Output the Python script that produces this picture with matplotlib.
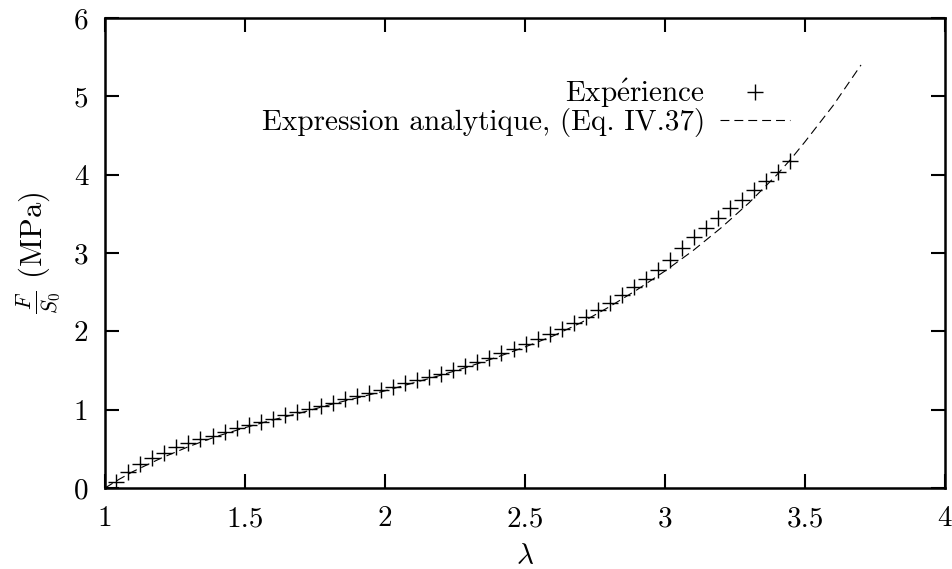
import matplotlib
matplotlib.use('Agg')
import matplotlib.pyplot as plt
from matplotlib import rcParams

rcParams['font.family'] = ['cmr10', 'DejaVu Serif']
rcParams['mathtext.fontset'] = 'cm'
rcParams['axes.formatter.use_mathtext'] = True

# experimental points (lambda, F/S0 in MPa)
lam_exp = [1.040, 1.083, 1.126, 1.169, 1.212, 1.255, 1.298, 1.341, 1.384, 1.427,
           1.470, 1.513, 1.556, 1.599, 1.642, 1.685, 1.728, 1.771, 1.814, 1.857,
           1.900, 1.943, 1.986, 2.029, 2.072, 2.115, 2.158, 2.201, 2.244, 2.287,
           2.330, 2.373, 2.416, 2.459, 2.502, 2.545, 2.588, 2.631, 2.674, 2.717,
           2.760, 2.803, 2.846, 2.889, 2.932, 2.975, 3.018, 3.061, 3.104, 3.147,
           3.190, 3.233, 3.276, 3.319, 3.362, 3.405, 3.448]
f_exp = [0.08, 0.20, 0.30, 0.38, 0.45, 0.52, 0.57, 0.62, 0.66, 0.71,
         0.76, 0.80, 0.84, 0.88, 0.93, 0.97, 1.01, 1.05, 1.09, 1.13,
         1.17, 1.21, 1.25, 1.29, 1.34, 1.38, 1.42, 1.46, 1.51, 1.56,
         1.61, 1.66, 1.72, 1.78, 1.84, 1.90, 1.96, 2.03, 2.10, 2.18,
         2.27, 2.36, 2.46, 2.57, 2.67, 2.78, 2.91, 3.06, 3.20, 3.32,
         3.45, 3.57, 3.68, 3.80, 3.92, 4.04, 4.17]

# analytic expression (Eq. IV.37)
lam_th = [1.0, 1.05, 1.1, 1.2, 1.3, 1.4, 1.5, 1.6, 1.7, 1.8, 1.9, 2.0, 2.1, 2.2,
          2.3, 2.4, 2.5, 2.6, 2.7, 2.8, 2.9, 3.0, 3.1, 3.2, 3.3, 3.4, 3.45, 3.5,
          3.6, 3.7]
f_th = [0.0, 0.11, 0.21, 0.38, 0.53, 0.66, 0.77, 0.87, 0.96, 1.06, 1.15, 1.24,
        1.34, 1.44, 1.55, 1.67, 1.80, 1.94, 2.11, 2.31, 2.53, 2.77, 3.03, 3.32,
        3.64, 4.00, 4.20, 4.42, 4.88, 5.40]

fig = plt.figure(figsize=(9.53, 5.69), dpi=100)
ax = fig.add_axes([0.1102, 0.1424, 0.8814, 0.826])

ax.plot(lam_exp, f_exp, linestyle='none', marker='+', markersize=11,
        markeredgewidth=1.0, color='black', label=r'Exp$\acute{\rm e}$rience')
ax.plot(lam_th, f_th, linestyle=(0, (8, 4.5)), linewidth=0.8, color='black',
        label='Expression analytique, (Eq. IV.37)')

ax.set_xlim(1, 4)
ax.set_ylim(0, 6)
ax.set_xticks([1, 1.5, 2, 2.5, 3, 3.5, 4])
ax.set_xticklabels(['1', '1.5', '2', '2.5', '3', '3.5', '4'])
ax.set_yticks([0, 1, 2, 3, 4, 5, 6])
ax.set_yticklabels(['0', '1', '2', '3', '4', '5', '6'])
ax.tick_params(direction='in', length=10, width=1.5, labelsize=21,
               top=True, right=True)
ax.tick_params(axis='x', pad=13)
ax.tick_params(axis='y', pad=12)
for s in ax.spines.values():
    s.set_linewidth(1.8)

ax.set_xlabel(r'$\lambda$', fontsize=21, labelpad=8)
ax.set_ylabel(r'$\frac{F}{S_0}$ (MPa)', fontsize=22, labelpad=8)

ax.legend(loc='upper right', bbox_to_anchor=(0.8155, 0.875), frameon=False,
          markerfirst=False, fontsize=21, handlelength=2.4, handletextpad=0.5,
          labelspacing=-0.05, borderpad=0, borderaxespad=0)

fig.savefig('out.png', dpi=100)
